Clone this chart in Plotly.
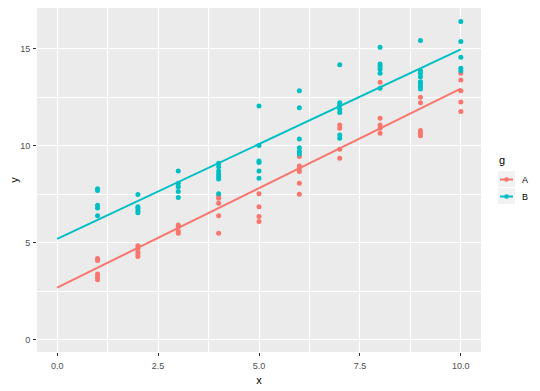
import plotly.graph_objects as go

# ---- data ----
xs_A = [1]*5 + [2]*5 + [3]*4 + [4]*5 + [5]*4 + [6]*6 + [7]*4 + [8]*5 + [9]*5 + [10]*5
ys_A = [4.2, 4.1, 3.4, 3.25, 3.1,
        4.85, 4.73, 4.55, 4.43, 4.3,
        5.92, 5.84, 5.6, 5.5,
        7.45, 7.3, 7.05, 6.4, 5.5,
        7.53, 6.87, 6.36, 6.1,
        9.45, 8.97, 8.85, 8.68, 8.08, 7.51,
        11.08, 10.91, 9.83, 9.37,
        13.28, 11.43, 11.08, 10.91, 10.65,
        12.51, 12.23, 10.79, 10.65, 10.52,
        13.75, 13.4, 12.84, 12.27, 11.77]
xs_B = [1]*5 + [2]*5 + [3]*5 + [4]*7 + [5]*6 + [6]*6 + [7]*7 + [8]*6 + [9]*8 + [10]*5
ys_B = [7.8, 7.7, 6.95, 6.8, 6.4,
        7.5, 6.87, 6.79, 6.66, 6.56,
        8.71, 8.08, 7.9, 7.65, 7.34,
        9.11, 8.93, 8.71, 8.56, 8.42, 8.3, 7.53,
        12.06, 10.02, 9.23, 9.15, 8.71, 8.33,
        12.84, 11.97, 10.36, 9.91, 9.71, 9.59,
        14.18, 12.23, 12.11, 11.89, 11.72, 10.57, 10.4,
        15.09, 14.23, 14.09, 13.95, 13.75, 12.97,
        15.43, 13.88, 13.75, 13.57, 13.31, 13.2, 13.06, 12.94,
        16.41, 15.38, 14.57, 14.0, 13.88]
line_x = [0, 10]
line_A = [2.70, 12.95]
line_B = [5.21, 14.98]
groups = ["A", "B"]
legend_title = "g"
x_ticks = [0, 2.5, 5, 7.5, 10]
x_ticklabels = ["0.0", "2.5", "5.0", "7.5", "10.0"]
y_ticks = [0, 5, 10, 15]

colors = {"A": "#F8766D", "B": "#00BFC4"}
FONT = "Liberation Sans"

fig = go.Figure()
for name, xs, ys, lys in [("A", xs_A, ys_A, line_A), ("B", xs_B, ys_B, line_B)]:
    col = colors[name]
    fig.add_trace(go.Scatter(x=xs, y=ys, mode="markers", marker=dict(color=col, size=5),
                             showlegend=False, hoverinfo="skip"))
    fig.add_trace(go.Scatter(x=line_x, y=lys, mode="lines", line=dict(color=col, width=2),
                             showlegend=False, hoverinfo="skip"))

# the page body has an 8px margin, so the figure is placed 8px right and down
OFF = 8
W, H = 540 - OFF, 391 - OFF
PX0, PX1, PY0, PY1 = 37, 481, 8, 352          # panel edges in window pixels
L, R, T, B = PX0 - OFF, W - (PX1 - OFF), PY0 - OFF, H - (PY1 - OFF)
pw, ph = PX1 - PX0, PY1 - PY0

def px2paper(px, py):
    return (px - PX0) / pw, (PY1 - py) / ph

# manual ggplot-style legend
shapes = []
annotations = []
tx, ty = px2paper(497, 160)
annotations.append(dict(x=tx, y=ty, xref="paper", yref="paper", text=legend_title, showarrow=False,
                        xanchor="left", yanchor="middle", font=dict(size=11, color="black")))
key_tops = [171, 188]
for i, g in enumerate(groups):
    top = key_tops[i]
    x0, y1 = px2paper(498, top)
    x1, y0 = px2paper(515, top + 16)
    shapes.append(dict(type="rect", xref="paper", yref="paper", x0=x0, x1=x1, y0=y0, y1=y1,
                       fillcolor="#F2F2F2", line=dict(width=0), layer="below"))
    cy = top + 8.5
    lx0, lyc = px2paper(500, cy)
    lx1, _ = px2paper(513, cy)
    shapes.append(dict(type="line", xref="paper", yref="paper", x0=lx0, x1=lx1, y0=lyc, y1=lyc,
                       line=dict(color=colors[g], width=2)))
    cx0, cy0 = px2paper(504.2, cy + 2.3)
    cx1, cy1 = px2paper(508.8, cy - 2.3)
    shapes.append(dict(type="circle", xref="paper", yref="paper", x0=cx0, x1=cx1, y0=cy0, y1=cy1,
                       fillcolor=colors[g], line=dict(width=0)))
    ax, ay = px2paper(520, cy)
    annotations.append(dict(x=ax, y=ay, xref="paper", yref="paper", text=g, showarrow=False,
                            xanchor="left", yanchor="middle", font=dict(size=9, color="black")))

fig.update_layout(
    width=W, height=H,
    margin=dict(l=L, r=R, t=T, b=B, pad=0, autoexpand=False),
    paper_bgcolor="white", plot_bgcolor="#EBEBEB",
    font=dict(family=FONT, size=9, color="#4D4D4D"),
    shapes=shapes, annotations=annotations, showlegend=False,
    xaxis=dict(range=[-0.5, 10.5], tickvals=x_ticks, ticktext=x_ticklabels, automargin=False,
               showgrid=True, gridcolor="white", gridwidth=1.1, zeroline=False,
               minor=dict(dtick=1.25, tick0=1.25, showgrid=True, gridcolor="white", gridwidth=0.5),
               ticks="outside", ticklen=3, tickcolor="#333333", tickwidth=1, ticklabelstandoff=2,
               title=dict(text="x", font=dict(size=11, color="black"), standoff=6),
               tickfont=dict(size=9, color="#4D4D4D"), showline=False),
    yaxis=dict(range=[-0.62, 17.11], tickvals=y_ticks, automargin=False,
               showgrid=True, gridcolor="white", gridwidth=1.1, zeroline=False,
               minor=dict(dtick=2.5, tick0=2.5, showgrid=True, gridcolor="white", gridwidth=0.5),
               ticks="outside", ticklen=3, tickcolor="#333333", tickwidth=1, ticklabelstandoff=1,
               title=dict(text="y", font=dict(size=11, color="black"), standoff=2),
               tickfont=dict(size=9, color="#4D4D4D"), showline=False),
)
fig.write_html("out.html")
